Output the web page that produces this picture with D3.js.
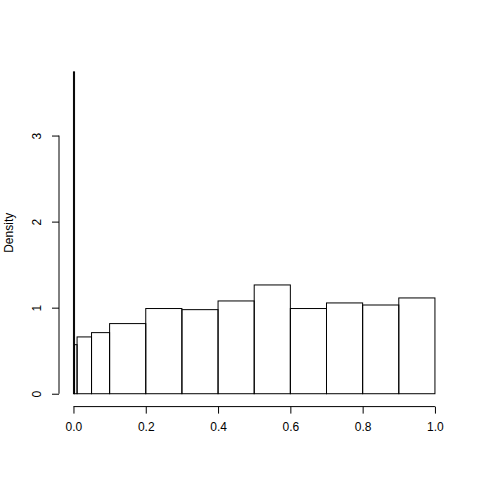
<!DOCTYPE html>
<html>
<head>
<meta charset="utf-8">
<script src="https://cdn.jsdelivr.net/npm/d3@7/dist/d3.min.js"></script>
<style>
  body { margin: 0; background: #fff; }
  text { font-family: "Liberation Sans", Arial, Helvetica, sans-serif; font-size: 12px; fill: #000; }
</style>
</head>
<body>
<svg id="chart" width="480" height="480"></svg>
<script>
// histogram breaks and densities
const breaks = [0, 0.003, 0.01, 0.05, 0.1, 0.2, 0.3, 0.4, 0.5, 0.6, 0.7, 0.8, 0.9, 1.0];
const density = [3.74, 0.57, 0.66, 0.71, 0.815, 0.99, 0.977, 1.078, 1.264, 0.99, 1.055, 1.031, 1.113];
const xTicks = [0, 0.2, 0.4, 0.6, 0.8, 1.0];
const yTicks = [0, 1, 2, 3];

const plot = { left: 59, right: 449.4, top: 59, bottom: 406.6 };
const ymax = d3.max(density);

const svg = d3.select('#chart');

const x = d3.scaleLinear()
  .domain([-0.04, 1.04])
  .range([plot.left, plot.right]);

const y = d3.scaleLinear()
  .domain([-0.04 * ymax, 1.04 * ymax])
  .range([plot.bottom, plot.top]);

const bins = density.map((d, i) => ({ x0: breaks[i], x1: breaks[i + 1], d: d }));

svg.append('g')
  .selectAll('rect')
  .data(bins)
  .enter()
  .append('rect')
  .attr('x', b => x(b.x0))
  .attr('width', b => x(b.x1) - x(b.x0))
  .attr('y', b => y(b.d))
  .attr('height', b => y(0) - y(b.d))
  .attr('fill', 'none')
  .attr('stroke', '#000')
  .attr('stroke-width', 1);

// x axis (R style: line only from first to last tick)
const xAxis = svg.append('g')
  .attr('transform', `translate(0,${plot.bottom})`)
  .call(d3.axisBottom(x).tickValues(xTicks).tickSize(7).tickPadding(9).tickFormat(d3.format('.1f')));
xAxis.select('.domain').remove();
xAxis.append('line')
  .attr('x1', x(xTicks[0])).attr('x2', x(xTicks[xTicks.length - 1]))
  .attr('stroke', '#000');
xAxis.selectAll('text').style('font-size', '12px').attr('fill', '#000');

// y axis
const yAxis = svg.append('g')
  .attr('transform', `translate(${plot.left},0)`)
  .call(d3.axisLeft(y).tickValues(yTicks).tickSize(7).tickFormat(d3.format('d')));
yAxis.select('.domain').remove();
yAxis.append('line')
  .attr('y1', y(yTicks[0])).attr('y2', y(yTicks[yTicks.length - 1]))
  .attr('stroke', '#000');
yAxis.selectAll('.tick text')
  .attr('x', null)
  .attr('text-anchor', 'middle')
  .attr('transform', 'translate(-22,0) rotate(-90)')
  .attr('dy', '0.35em')
  .style('font-size', '12px').attr('fill', '#000');

svg.append('text')
  .attr('transform', `translate(13,${(plot.top + plot.bottom) / 2}) rotate(-90)`)
  .attr('text-anchor', 'middle')
  .text('Density');
</script>
</body>
</html>
